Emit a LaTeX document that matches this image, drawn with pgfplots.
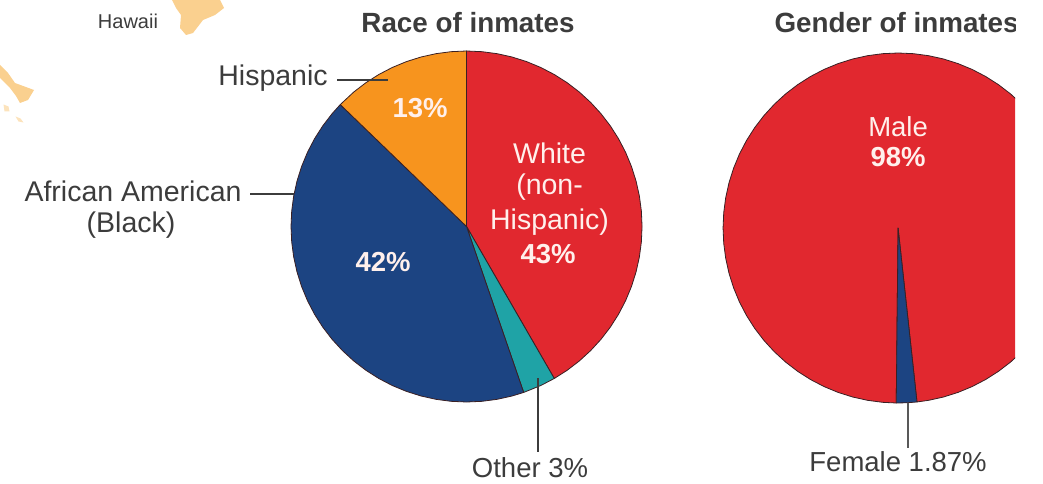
\documentclass[border=0pt]{standalone}
\usepackage{fontspec}
\setmainfont{Liberation Sans}
\usepackage{pgfplots}
\pgfplotsset{compat=1.18}
\definecolor{pred}{HTML}{E1282F}
\definecolor{pblue}{HTML}{1C4482}
\definecolor{porange}{HTML}{F7941E}
\definecolor{pteal}{HTML}{1FA3A6}
\definecolor{island}{HTML}{FAD08F}
\definecolor{edge}{HTML}{3A2024}
\definecolor{txt}{HTML}{3C3C3C}
\definecolor{wtxt}{HTML}{FFF0EC}
\newcommand{\fs}[1]{\fontsize{#1}{#1}\selectfont}
\pgfplotsset{
    pieaxis/.style={
        at={(0,0)}, anchor=south west,
        scale only axis, hide axis,
        height=483pt,
        clip=true,
    },
    slice/.style={fill=#1, draw=edge, line width=0.8pt, line join=round, data cs=polar},
    lead/.style={draw=txt, line width=1.3pt},
}
\begin{document}
\begin{tikzpicture}
    \path[use as bounding box] (0,0) rectangle (1043pt,483pt);
    % race pie, origin at the centre of the pie, 1 unit = 1 px of the reference
    \begin{axis}[pieaxis, width=1043pt,
        xmin=-466.5, xmax=576.5, ymin=-256.5, ymax=226.5]
        % Hawaii islands
        \addplot[fill=island, draw=none] coordinates {(-294.5,226.5) (-290.5,218.5) (-285.5,211.5) (-286.5,198.5) (-280.5,191.5) (-273.5,193.5) (-263.5,206.5) (-251.5,211.5) (-242.5,218.5) (-246.5,226.5)} --cycle;
        \addplot[fill=island, draw=none] coordinates {(-466.5,161.5) (-458.5,153.5) (-451.5,143.5) (-432.5,136.5) (-438.5,126.5) (-446.5,123.5) (-450.5,130.5) (-456.5,138.5) (-466.5,148.5)} --cycle;
        \addplot[fill=island!60, draw=none] coordinates {(-463,122) (-458,120) (-457,115) (-462,115)} --cycle;
        \addplot[fill=island!60, draw=none] coordinates {(-451,110) (-446,108) (-443,104) (-448,105)} --cycle;
        % White 43%
        \addplot[slice=pred] coordinates {(0,0) (90,175.5) (85,175.5) (80,175.5) (75,175.5) (70,175.5) (65,175.5) (60,175.5) (55,175.5) (50,175.5) (45,175.5) (40,175.5) (35,175.5) (30,175.5) (25,175.5) (20,175.5) (15,175.5) (10,175.5) (5,175.5) (0,175.5) (-5,175.5) (-10,175.5) (-15,175.5) (-20,175.5) (-25,175.5) (-30,175.5) (-35,175.5) (-40,175.5) (-45,175.5) (-50,175.5) (-55,175.5) (-60,175.5)} --cycle;
        % Other 3%
        \addplot[slice=pteal] coordinates {(0,0) (-60,175.5) (-65,175.5) (-71,175.5)} --cycle;
        % African American 42%
        \addplot[slice=pblue] coordinates {(0,0) (-71,175.5) (-75,175.5) (-80,175.5) (-85,175.5) (-90,175.5) (-95,175.5) (-100,175.5) (-105,175.5) (-110,175.5) (-115,175.5) (-120,175.5) (-125,175.5) (-130,175.5) (-135,175.5) (-140,175.5) (-145,175.5) (-150,175.5) (-155,175.5) (-160,175.5) (-165,175.5) (-170,175.5) (-175,175.5) (-180,175.5) (-185,175.5) (-190,175.5) (-195,175.5) (-200,175.5) (-205,175.5) (-210,175.5) (-215,175.5) (-220,175.5) (-224,175.5)} --cycle;
        % Hispanic 13%
        \addplot[slice=porange] coordinates {(0,0) (136,175.5) (130,175.5) (125,175.5) (120,175.5) (115,175.5) (110,175.5) (105,175.5) (100,175.5) (95,175.5) (90,175.5)} --cycle;
        % leader lines
        \addplot[lead] coordinates {(-129.5,146.5) (-78.5,146.5)};
        \addplot[lead] coordinates {(-216.5,32.5) (-172.5,32.5)};
        \addplot[lead] coordinates {(71.5,-151.5) (71.5,-225.5)};
        % text
        \node[text=txt, font=\fs{20}] at (axis cs:-338.5,205.5) {Hawaii};
        \node[text=txt, font=\fs{27.8}\bfseries] at (axis cs:1.5,203.5) {Race of inmates};
        \node[text=txt, font=\fs{28.5}] at (axis cs:-193.5,148.5) {Hispanic};
        \node[text=txt, font=\fs{28.5}] at (axis cs:-333.5,35.5) {African American};
        \node[text=txt, font=\fs{28.5}] at (axis cs:-335.5,1.5) {(Black)};
        \node[text=txt, font=\fs{27.5}] at (axis cs:63.5,-241.5) {Other 3\%};
        \node[text=wtxt, font=\fs{27.5}\bfseries] at (axis cs:-46.5,118.5) {13\%};
        \node[text=wtxt, font=\fs{28.5}] at (axis cs:83,73.5) {White};
        \node[text=wtxt, font=\fs{28.5}] at (axis cs:83,39.5) {(non-};
        \node[text=wtxt, font=\fs{28.5}] at (axis cs:83,4.5) {Hispanic)};
        \node[text=wtxt, font=\fs{27.5}\bfseries] at (axis cs:81.5,-27.5) {43\%};
        \node[text=wtxt, font=\fs{27.5}\bfseries] at (axis cs:-83.5,-35.5) {42\%};
    \end{axis}
    % gender pie, cut off at x=1015 as in the reference
    \begin{axis}[pieaxis, width=1015pt,
        xmin=-898, xmax=117, ymin=-255, ymax=228]
        % Male 98%
        \addplot[slice=pred] coordinates {(0,0) (-83.8,175) (-80,175) (-75,175) (-70,175) (-65,175) (-60,175) (-55,175) (-50,175) (-45,175) (-40,175) (-35,175) (-30,175) (-25,175) (-20,175) (-15,175) (-10,175) (-5,175) (0,175) (5,175) (10,175) (15,175) (20,175) (25,175) (30,175) (35,175) (40,175) (45,175) (50,175) (55,175) (60,175) (65,175) (70,175) (75,175) (80,175) (85,175) (90,175) (95,175) (100,175) (105,175) (110,175) (115,175) (120,175) (125,175) (130,175) (135,175) (140,175) (145,175) (150,175) (155,175) (160,175) (165,175) (170,175) (175,175) (180,175) (185,175) (190,175) (195,175) (200,175) (205,175) (210,175) (215,175) (220,175) (225,175) (230,175) (235,175) (240,175) (245,175) (250,175) (255,175) (260,175) (265,175) (269.4,175)} --cycle;
        % Female 1.87%
        \addplot[slice=pblue] coordinates {(0,0) (-90.6,175) (-87,175) (-83.8,175)} --cycle;
        \addplot[draw=gray!70!black, line width=1.3pt] coordinates {(10,-175) (10,-220)};
        \node[text=txt, font=\fs{27.8}\bfseries, anchor=west] at (axis cs:-127,205) {Gender of inmates};
        \node[text=wtxt, font=\fs{27.5}] at (axis cs:0,101) {Male};
        \node[text=wtxt, font=\fs{27.5}\bfseries] at (axis cs:0,71) {98\%};
        \node[text=txt, font=\fs{27.5}] at (axis cs:0,-234) {Female 1.87\%};
    \end{axis}
\end{tikzpicture}
\end{document}
